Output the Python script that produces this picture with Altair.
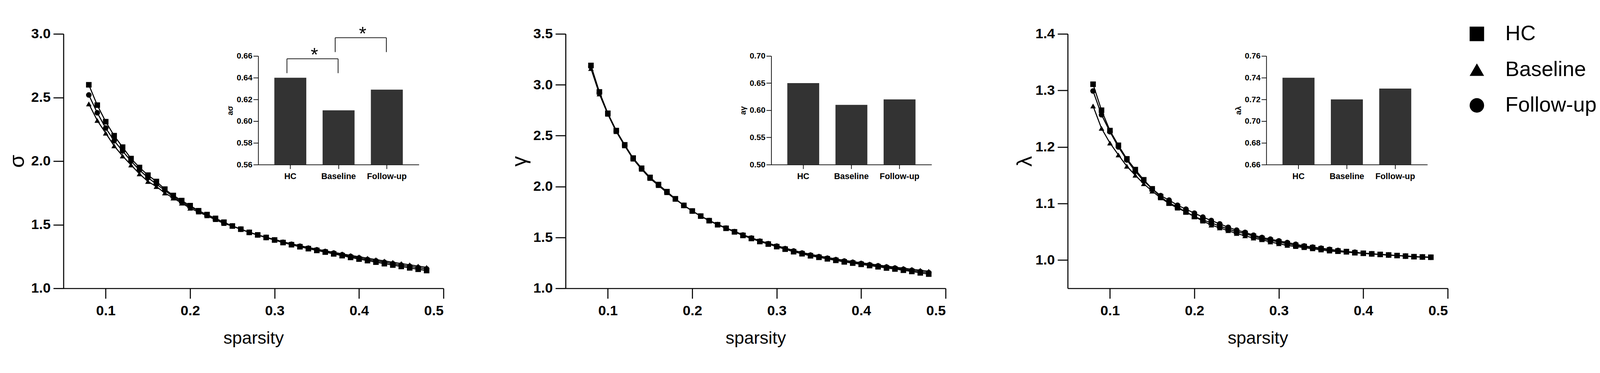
import altair as alt
import pandas as pd

# ---------------- data ----------------
sparsity = [0.08, 0.09, 0.10, 0.11, 0.12, 0.13, 0.14, 0.15, 0.16, 0.17,
            0.18, 0.19, 0.20, 0.21, 0.22, 0.23, 0.24, 0.25, 0.26, 0.27,
            0.28, 0.29, 0.30, 0.31, 0.32, 0.33, 0.34, 0.35, 0.36, 0.37,
            0.38, 0.39, 0.40, 0.41, 0.42, 0.43, 0.44, 0.45, 0.46, 0.47, 0.48]
groups = ["HC", "Baseline", "Follow-up"]
group_shapes = ["square", "triangle-up", "circle"]
draw_order = ["Baseline", "Follow-up", "HC"]   # HC markers end up on top

sigma_hc = [2.60, 2.44, 2.31, 2.20, 2.11, 2.02, 1.95, 1.89, 1.84, 1.78,
            1.73, 1.69, 1.65, 1.61, 1.58, 1.55, 1.52, 1.49, 1.465, 1.44,
            1.42, 1.40, 1.38, 1.36, 1.343, 1.327, 1.312, 1.298, 1.285, 1.271,
            1.257, 1.243, 1.23, 1.218, 1.206, 1.194, 1.183, 1.172, 1.161, 1.15, 1.14]
sigma_bl = [2.45, 2.32, 2.22, 2.12, 2.04, 1.97, 1.90, 1.84, 1.80, 1.75,
            1.71, 1.67, 1.63, 1.60, 1.57, 1.54, 1.51, 1.49, 1.465, 1.44,
            1.42, 1.40, 1.385, 1.366, 1.35, 1.335, 1.321, 1.308, 1.295, 1.283,
            1.271, 1.259, 1.248, 1.237, 1.226, 1.215, 1.205, 1.195, 1.185, 1.175, 1.165]
sigma_fu = [2.52, 2.38, 2.26, 2.16, 2.08, 2.00, 1.93, 1.87, 1.82, 1.77,
            1.72, 1.68, 1.64, 1.61, 1.575, 1.545, 1.515, 1.49, 1.465, 1.44,
            1.42, 1.40, 1.38, 1.362, 1.346, 1.331, 1.316, 1.303, 1.29, 1.277,
            1.264, 1.251, 1.239, 1.227, 1.216, 1.205, 1.194, 1.183, 1.173, 1.163, 1.153]

gamma_hc = [3.19, 2.93, 2.72, 2.55, 2.41, 2.28, 2.18, 2.09, 2.02, 1.95,
            1.88, 1.815, 1.76, 1.71, 1.665, 1.625, 1.59, 1.555, 1.52, 1.49,
            1.46, 1.435, 1.41, 1.385, 1.36, 1.34, 1.32, 1.305, 1.29, 1.275,
            1.26, 1.248, 1.236, 1.224, 1.212, 1.20, 1.19, 1.178, 1.166, 1.152, 1.14]
gamma_bl = [3.16, 2.91, 2.71, 2.54, 2.40, 2.27, 2.17, 2.08, 2.01, 1.94,
            1.875, 1.815, 1.76, 1.71, 1.667, 1.628, 1.593, 1.56, 1.527, 1.497,
            1.468, 1.443, 1.42, 1.396, 1.373, 1.353, 1.334, 1.318, 1.303, 1.289,
            1.275, 1.263, 1.251, 1.24, 1.229, 1.218, 1.208, 1.198, 1.188, 1.178, 1.168]
gamma_fu = [3.18, 2.92, 2.715, 2.545, 2.405, 2.275, 2.175, 2.085, 2.015, 1.945,
            1.878, 1.815, 1.76, 1.71, 1.666, 1.627, 1.592, 1.558, 1.524, 1.494,
            1.464, 1.439, 1.415, 1.39, 1.367, 1.347, 1.327, 1.311, 1.296, 1.282,
            1.268, 1.256, 1.244, 1.232, 1.221, 1.21, 1.199, 1.188, 1.177, 1.165, 1.154]

lambda_hc = [1.311, 1.265, 1.229, 1.203, 1.179, 1.160, 1.142, 1.126, 1.112, 1.101,
             1.094, 1.085, 1.077, 1.071, 1.066, 1.060, 1.055, 1.050, 1.047, 1.042,
             1.038, 1.035, 1.032, 1.029, 1.026, 1.024, 1.022, 1.020, 1.018, 1.016,
             1.015, 1.013, 1.012, 1.011, 1.010, 1.009, 1.008, 1.007, 1.006, 1.0055, 1.005]
lambda_bl = [1.2725, 1.233, 1.207, 1.186, 1.166, 1.150, 1.135, 1.122, 1.110, 1.100,
             1.092, 1.085, 1.077, 1.069, 1.062, 1.057, 1.052, 1.047, 1.043, 1.039,
             1.036, 1.032, 1.029, 1.026, 1.024, 1.022, 1.020, 1.018, 1.016, 1.015,
             1.014, 1.013, 1.012, 1.011, 1.010, 1.009, 1.008, 1.007, 1.006, 1.0055, 1.005]
lambda_fu = [1.299, 1.257, 1.227, 1.200, 1.177, 1.157, 1.140, 1.126, 1.114, 1.106,
             1.097, 1.090, 1.083, 1.076, 1.070, 1.064, 1.058, 1.053, 1.049, 1.044,
             1.040, 1.037, 1.034, 1.031, 1.028, 1.025, 1.023, 1.021, 1.019, 1.017,
             1.015, 1.014, 1.012, 1.011, 1.010, 1.009, 1.008, 1.007, 1.006, 1.0055, 1.005]

# inset bar values (area under curve)
auc_sigma = [0.640, 0.610, 0.629]
auc_gamma = [0.650, 0.610, 0.620]
auc_lambda = [0.740, 0.720, 0.730]

x_ticks = [0.1, 0.2, 0.3, 0.4, 0.5]
sigma_ticks = [1.0, 1.5, 2.0, 2.5, 3.0]
gamma_ticks = [1.0, 1.5, 2.0, 2.5, 3.0, 3.5]
lambda_ticks = [1.0, 1.1, 1.2, 1.3, 1.4]
auc_sigma_ticks = [0.56, 0.58, 0.60, 0.62, 0.64, 0.66]
auc_gamma_ticks = [0.50, 0.55, 0.60, 0.65, 0.70]
auc_lambda_ticks = [0.66, 0.68, 0.70, 0.72, 0.74, 0.76]

# significance annotations for the sigma inset
sig_pairs = [("HC", "Baseline"), ("Baseline", "Follow-up")]
sig_level = [0.6574, 0.6768]
sig_text = ["*", "*"]

# ---------------- layout / style ----------------
FONT = "Liberation Sans"
W, H = 1083, 726
SPACING = 348
INSET_TOP, INSET_BOTTOM = 63, 373
P_IN, P_OUT = 0.338, 0.334
BAR_COLOR = "#333333"
LEGEND_SYMBOL_X = 1166      # legend column positions, px from the last panel's left edge
LEGEND_TEXT_X = 1247
LEGEND_ROWS = [0, 204]      # first / last legend row, px from the panel top

shape_scale = alt.Scale(domain=groups, range=group_shapes)


def panel(curves, y_dom, y_ticks, y_title, y_title_x, auc, auc_dom, auc_ticks,
          auc_title, inset_range, annotate=False, legend=False):
    series = dict(zip(groups, curves))
    rows = []
    for g in draw_order:
        for s, v in zip(sparsity, series[g]):
            rows.append({"sparsity": s, "value": v, "group": g})
    df = pd.DataFrame(rows)

    x = alt.X("sparsity:Q",
              scale=alt.Scale(domain=[0.05, 0.5], nice=False, zero=False),
              axis=alt.Axis(values=x_ticks, format=".1f", title="sparsity",
                            labelFontSize=40, labelFontWeight="bold", labelPadding=15,
                            tickSize=29, tickWidth=3, domainWidth=3,
                            titleFontSize=50, titleFontWeight="normal",
                            titleY=157, titleBaseline="alphabetic"))
    y = alt.Y("value:Q",
              scale=alt.Scale(domain=y_dom, nice=False, zero=False),
              axis=alt.Axis(values=y_ticks, format=".1f", title=y_title,
                            labelFontSize=40, labelFontWeight="bold", labelPadding=8,
                            tickSize=29, tickWidth=3, domainWidth=3,
                            titleFontSize=60, titleFontWeight="normal",
                            titleAngle=270, titleX=y_title_x, titleY=H / 2,
                            titleBaseline="middle", titleAlign="center"))
    line = alt.Chart(df).mark_line(color="black", strokeWidth=3).encode(
        x=x, y=y, detail="group:N")
    pts = alt.Chart(df).mark_point(filled=True, color="black", opacity=1, size=250).encode(
        x=x, y=y,
        shape=alt.Shape("group:N", scale=shape_scale, legend=None))
    main = alt.layer(line, pts)

    bdf = pd.DataFrame({"group": groups, "auc": auc})
    bars = alt.Chart(bdf).mark_bar(color=BAR_COLOR).encode(
        x=alt.X("group:N", sort=groups,
                scale=alt.Scale(domain=groups, range=inset_range,
                                paddingInner=P_IN, paddingOuter=P_OUT),
                axis=alt.Axis(orient="bottom", offset=-(H - INSET_BOTTOM), title=None,
                              labelAngle=0, labelFontSize=24, labelFontWeight="bold",
                              labelPadding=10, tickSize=12, tickWidth=2, domainWidth=2)),
        y=alt.Y("auc:Q",
                scale=alt.Scale(domain=auc_dom, range=[INSET_BOTTOM, INSET_TOP],
                                nice=False, zero=False),
                axis=alt.Axis(orient="left", offset=-inset_range[0], values=auc_ticks,
                              format=".2f", title=auc_title,
                              labelFontSize=23, labelFontWeight="bold", labelPadding=3,
                              tickSize=14, tickWidth=2, domainWidth=2,
                              titleFontSize=22, titleFontWeight="bold", titleAngle=270,
                              titleX=-80, titleY=(INSET_TOP + INSET_BOTTOM) / 2,
                              titleBaseline="middle", titleAlign="center")),
        y2=alt.datum(auc_dom[0]),
    )
    layers = [main, bars]

    if annotate:
        idx = {g: i for i, g in enumerate(groups)}
        start = P_OUT + (1 - P_IN) / 2
        total = len(groups) - P_IN + 2 * P_OUT
        ax_scale = alt.Scale(domain=[-start, total - start], range=inset_range,
                             nice=False, zero=False)
        ay_scale = alt.Scale(domain=auc_dom, range=[INSET_BOTTOM, INSET_TOP],
                             nice=False, zero=False)
        leg = 0.0132
        brows, lrows = [], []
        for (a, b), lev, t in zip(sig_pairs, sig_level, sig_text):
            xa, xb = idx[a] - 0.07, idx[b] - 0.01
            brows.append({"xa": xa, "xb": xb, "xm": (idx[a] + idx[b]) / 2,
                          "y": lev, "t": t})
            lrows.append({"xa": xa, "y": lev, "yb": lev - leg})
            lrows.append({"xa": xb, "y": lev, "yb": lev - leg})
        bdf2 = pd.DataFrame(brows)
        ldf = pd.DataFrame(lrows)
        hrule = alt.Chart(bdf2).mark_rule(color="black", strokeWidth=2).encode(
            x=alt.X("xa:Q", scale=ax_scale, axis=None), x2="xb:Q",
            y=alt.Y("y:Q", scale=ay_scale, axis=None))
        vrule = alt.Chart(ldf).mark_rule(color="black", strokeWidth=2).encode(
            x=alt.X("xa:Q", scale=ax_scale, axis=None),
            y=alt.Y("yb:Q", scale=ay_scale, axis=None), y2="y:Q")
        stars = alt.Chart(bdf2).mark_text(fontSize=54, font=FONT, color="black",
                                          baseline="alphabetic", dy=6).encode(
            x=alt.X("xm:Q", scale=ax_scale, axis=None),
            y=alt.Y("y:Q", scale=ay_scale, axis=None),
            text="t:N")
        layers.append(alt.layer(hrule, vrule, stars))

    if legend:
        ldata = pd.DataFrame({"group": groups})
        ly = alt.Y("group:N", sort=groups, axis=None,
                   scale=alt.Scale(type="point", domain=groups, range=LEGEND_ROWS,
                                   padding=0))
        lsym = alt.Chart(ldata).mark_point(filled=True, color="black", opacity=1,
                                           size=1700).encode(
            x=alt.value(LEGEND_SYMBOL_X), y=ly,
            shape=alt.Shape("group:N", scale=shape_scale, legend=None))
        ltxt = alt.Chart(ldata).mark_text(align="left", baseline="middle", fontSize=60,
                                          font=FONT, color="black").encode(
            x=alt.value(LEGEND_TEXT_X), y=ly, text="group:N")
        layers.append(alt.layer(lsym, ltxt))

    return alt.layer(*layers).resolve_scale(x="independent", y="independent").properties(
        width=W, height=H)


p1 = panel([sigma_hc, sigma_bl, sigma_fu], [1.0, 3.0], sigma_ticks, "σ", -132,
           auc_sigma, [0.56, 0.66], auc_sigma_ticks, "aσ", [555, 1013], annotate=True)
p2 = panel([gamma_hc, gamma_bl, gamma_fu], [1.0, 3.5], gamma_ticks, "γ", -131,
           auc_gamma, [0.50, 0.70], auc_gamma_ticks, "aγ", [586, 1043])
p3 = panel([lambda_hc, lambda_bl, lambda_fu], [0.95, 1.4], lambda_ticks, "λ", -121,
           auc_lambda, [0.66, 0.76], auc_lambda_ticks, "aλ", [566, 1025], legend=True)

chart = alt.hconcat(p1, p2, p3, spacing=SPACING, bounds="flush").configure_view(
    stroke=None
).configure_axis(
    grid=False, domainColor="black", tickColor="black", labelColor="black",
    titleColor="black", labelFont=FONT, titleFont=FONT
).properties(padding={"left": 10, "top": 5, "right": 0, "bottom": 5})

chart.save("out.html", embed_options={"renderer": "svg", "actions": False})
